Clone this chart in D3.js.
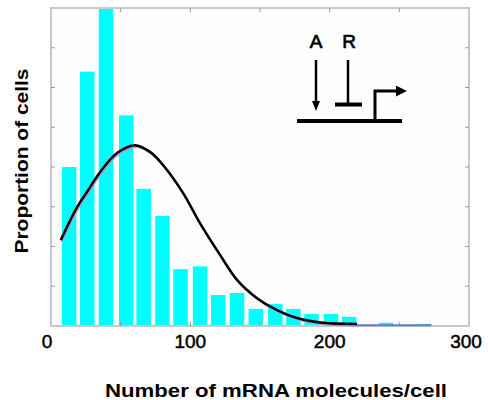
<!DOCTYPE html>
<html lang="en">
<head>
  <meta charset="UTF-8">
  <title></title>
  <style>
    html, body {
      margin: 0;
      overflow: hidden;
      width: 100%;
      height: 100%;
      background: white;
    }
    svg {
      position: absolute;
      top: 0;
      left: 0;
      font-family: 'Liberation Sans', Arial, sans-serif;
    }
  </style>
</head>
<body>
  <svg width="488" height="400"></svg>
</body>
<script src="https://d3js.org/d3.v7.min.js"></script>
<script type="text/javascript">
  // histogram bins (centre of bin, mRNA molecules) and heights (arbitrary units)
  const binCenters = [13, 26, 39.5, 54, 66.5, 80, 93, 107, 120, 133.5, 147, 161, 174, 187, 201, 214, 227, 240.5, 254, 268]
  const binHeights = [4.0, 6.4, 8.5, 5.3, 3.45, 2.77, 1.43, 1.5, 0.78, 0.83, 0.43, 0.55, 0.43, 0.3, 0.3, 0.23, 0.02, 0.08, 0.02, 0.05]

  // fitted distribution (black curve)
  const fitX = [7, 18.7, 25.8, 35.2, 47.4, 60.3, 71.1, 80.4, 94.7, 106.9, 121.3, 133.5, 147.9, 162.2, 176.6, 195.2, 219.6]
  const fitY = [2.16, 2.99, 3.37, 3.87, 4.35, 4.55, 4.38, 4.05, 3.35, 2.59, 1.79, 1.16, 0.70, 0.40, 0.20, 0.08, 0.05]

  // blue tail running along the baseline
  const tailX = [219, 273]
  const tailY = [0.02, 0.02]

  const xTicks = [0, 100, 200, 300]
  const xMinorTicks = [50, 100, 150, 200, 250]
  const yTicks = [1, 2, 3, 4, 5, 6, 7]

  const svg = d3.select('svg')

  const x = d3.scaleLinear().domain([0, 300]).range([51, 469])
  const y = d3.scaleLinear().domain([0, 8]).range([326, 8])

  // plot background
  svg.append('rect')
    .attr('x', x(0)).attr('y', y(8))
    .attr('width', x(300) - x(0)).attr('height', y(0) - y(8))
    .attr('fill', '#fefefe')

  svg.append('clipPath').attr('id', 'clip')
    .append('rect')
    .attr('x', x(0)).attr('y', y(8))
    .attr('width', x(300) - x(0)).attr('height', y(0) - y(8))

  const plot = svg.append('g').attr('clip-path', 'url(#clip)')

  // bars
  const barW = x(10.4) - x(0)
  plot.selectAll('rect.bar')
    .data(binCenters.map((c, i) => ({ c: c, h: binHeights[i] })))
    .enter()
    .append('rect')
    .attr('class', 'bar')
    .attr('x', d => x(d.c) - barW / 2)
    .attr('y', d => y(d.h))
    .attr('width', barW)
    .attr('height', d => y(0) - y(d.h))
    .attr('fill', '#00ffff')

  // frame
  svg.append('rect')
    .attr('x', x(0)).attr('y', y(8))
    .attr('width', x(300) - x(0)).attr('height', y(0) - y(8))
    .attr('fill', 'none')
    .attr('stroke', '#c8c8c8')
    .attr('stroke-width', 2)

  // ticks (inside)
  const tickG = svg.append('g').attr('stroke', '#999').attr('stroke-width', 1)
  xMinorTicks.forEach(t => {
    tickG.append('line').attr('x1', x(t)).attr('x2', x(t)).attr('y1', y(8)).attr('y2', y(8) + 4)
    tickG.append('line').attr('x1', x(t)).attr('x2', x(t)).attr('y1', y(0)).attr('y2', y(0) - 4)
  })
  yTicks.forEach(t => {
    tickG.append('line').attr('x1', x(0)).attr('x2', x(0) + 4).attr('y1', y(t)).attr('y2', y(t))
    tickG.append('line').attr('x1', x(300)).attr('x2', x(300) - 4).attr('y1', y(t)).attr('y2', y(t))
  })

  const line = d3.line()
    .x(d => x(d[0]))
    .y(d => y(d[1]))
    .curve(d3.curveCatmullRom)

  // purple shadow under the fit, then the tail, then the fit
  svg.append('path')
    .attr('d', line(fitX.map((v, i) => [v, fitY[i]])))
    .attr('transform', 'translate(1,1.5)')
    .attr('fill', 'none')
    .attr('stroke', '#a89ee8')
    .attr('stroke-width', 2)

  svg.append('path')
    .attr('d', line(tailX.map((v, i) => [v, tailY[i]])))
    .attr('fill', 'none')
    .attr('stroke', '#6a7ad8')
    .attr('stroke-width', 2)

  svg.append('path')
    .attr('d', line(fitX.map((v, i) => [v, fitY[i]])))
    .attr('fill', 'none')
    .attr('stroke', '#000')
    .attr('stroke-width', 2.5)
    .attr('stroke-linejoin', 'round')

  // tick labels
  svg.selectAll('text.xtick')
    .data(xTicks)
    .enter()
    .append('text')
    .attr('class', 'xtick')
    .attr('x', d => x(d) - (d === 0 ? 4 : (d === 300 ? 3 : 0)))
    .attr('y', 348)
    .attr('text-anchor', 'middle')
    .attr('font-size', 19)
    .attr('stroke', '#000')
    .attr('stroke-width', 0.5)
    .text(d => d)

  // axis titles
  svg.append('text')
    .attr('x', 276)
    .attr('y', 397)
    .attr('text-anchor', 'middle')
    .attr('font-size', 18)
    .attr('font-weight', 'bold')
    .attr('textLength', 342)
    .attr('lengthAdjust', 'spacingAndGlyphs')
    .text('Number of mRNA molecules/cell')

  svg.append('text')
    .attr('transform', 'translate(28,161) rotate(-90)')
    .attr('text-anchor', 'middle')
    .attr('font-size', 18)
    .attr('font-weight', 'bold')
    .attr('textLength', 185)
    .attr('lengthAdjust', 'spacingAndGlyphs')
    .text('Proportion of cells')

  // inset: activator / repressor acting on a promoter
  const inset = svg.append('g')
  inset.append('text').attr('x', 316).attr('y', 48).attr('text-anchor', 'middle')
    .attr('font-size', 19).attr('stroke', '#000').attr('stroke-width', 0.7).text('A')
  inset.append('text').attr('x', 349).attr('y', 48).attr('text-anchor', 'middle')
    .attr('font-size', 19).attr('stroke', '#000').attr('stroke-width', 0.7).text('R')

  const defs = svg.append('defs')
  defs.append('marker')
    .attr('id', 'headA')
    .attr('viewBox', '0 0 10 8')
    .attr('refX', 1).attr('refY', 4)
    .attr('markerWidth', 10).attr('markerHeight', 8)
    .attr('markerUnits', 'userSpaceOnUse')
    .attr('orient', 'auto')
    .append('path').attr('d', 'M0,0 L10,4 L0,8 Z').attr('fill', '#000')
  defs.append('marker')
    .attr('id', 'headP')
    .attr('viewBox', '0 0 10 10')
    .attr('refX', 1).attr('refY', 5)
    .attr('markerWidth', 11).attr('markerHeight', 11)
    .attr('markerUnits', 'userSpaceOnUse')
    .attr('orient', 'auto')
    .append('path').attr('d', 'M0,0 L10,5 L0,10 Z').attr('fill', '#000')

  inset.append('line').attr('x1', 316).attr('x2', 316).attr('y1', 60).attr('y2', 102)
    .attr('stroke', '#000').attr('stroke-width', 2.5).attr('marker-end', 'url(#headA)')
  inset.append('line').attr('x1', 348).attr('x2', 348).attr('y1', 60).attr('y2', 104)
    .attr('stroke', '#000').attr('stroke-width', 2.5)
  inset.append('line').attr('x1', 335).attr('x2', 362).attr('y1', 104.5).attr('y2', 104.5)
    .attr('stroke', '#000').attr('stroke-width', 4)
  inset.append('line').attr('x1', 297).attr('x2', 402).attr('y1', 121).attr('y2', 121)
    .attr('stroke', '#000').attr('stroke-width', 4)
  inset.append('path').attr('d', 'M375,121 L375,91 L397,91')
    .attr('fill', 'none').attr('stroke', '#000').attr('stroke-width', 3)
    .attr('marker-end', 'url(#headP)')
</script>
</html>
